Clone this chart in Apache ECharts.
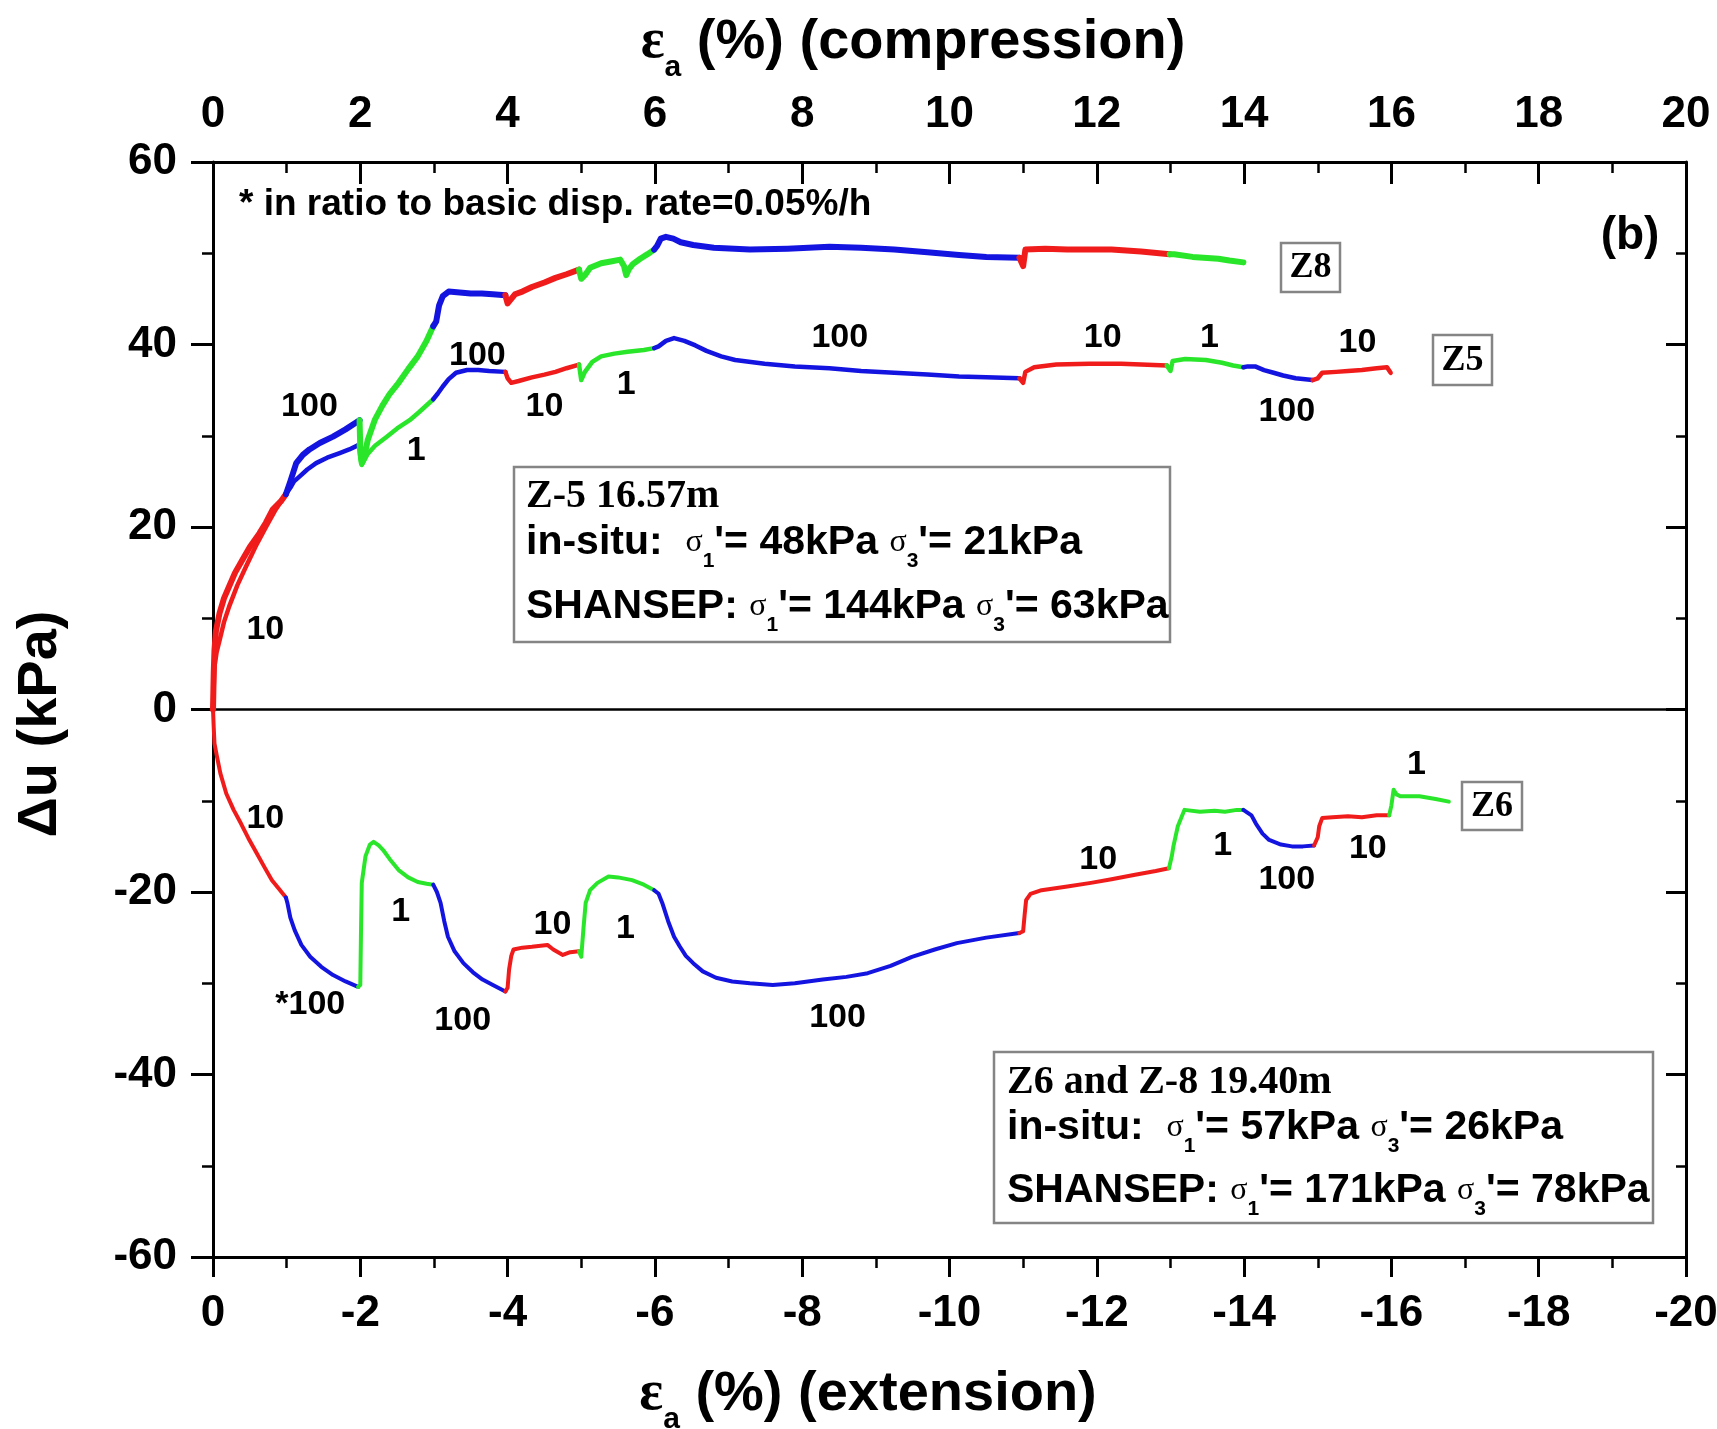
<!DOCTYPE html>
<html><head><meta charset="utf-8">
<script src="https://cdn.jsdelivr.net/npm/echarts@6/dist/echarts.min.js"></script>
<style>html,body{margin:0;padding:0;background:#fff}#c{width:1717px;height:1429px}</style>
</head><body><div id="c"></div>
<script>
// ---- stage schedule (strain % where each displacement-rate stage ends) ----
const stageEnds  = [1, 2, 3, 4, 5, 6, 11, 13, 14, 15, 16, 20];
const stageRates = [10, 100, 1, 100, 10, 1, 100, 10, 1, 100, 10, 1];
const rateColors = {100: '#1414e0', 10: '#f01c1c', 1: '#2ae62a'};

// ---- Z8 (compression), [εa %, Δu kPa] ----
const z8Points = [
[0,0],[0.005,2.0],[0.01,4.0],[0.02,6.5],[0.04,8.6],[0.09,10.6],[0.15,12.2],[0.22,13.5],[0.30,15.0],[0.40,16.4],[0.50,17.8],[0.63,19.3],[0.72,20.5],[0.81,21.9],[0.92,22.8],[0.99,23.6],
[1.05,25.0],[1.13,27.0],[1.22,27.9],[1.31,28.5],[1.45,29.2],[1.63,29.9],[1.8,30.7],[1.99,31.7],
[2.0,28.5],[2.02,27.0],[2.05,27.5],[2.1,29.5],[2.2,31.8],[2.3,33.3],[2.4,34.6],[2.52,35.8],[2.65,37.3],[2.78,38.7],[2.9,40.4],[2.99,42.0],
[3.03,42.5],[3.07,44.3],[3.12,45.3],[3.2,45.8],[3.35,45.7],[3.5,45.6],[3.65,45.6],[3.8,45.5],[3.97,45.4],
[4.0,44.5],[4.03,44.8],[4.1,45.5],[4.2,45.8],[4.33,46.3],[4.5,46.8],[4.65,47.3],[4.8,47.7],[4.97,48.2],
[5.0,47.2],[5.05,47.6],[5.12,48.4],[5.27,48.9],[5.4,49.1],[5.53,49.3],[5.58,48.6],[5.61,47.6],[5.65,48.3],[5.7,48.8],[5.8,49.4],[5.9,49.9],[5.99,50.4],
[6.03,50.8],[6.08,51.6],[6.15,51.8],[6.25,51.6],[6.35,51.2],[6.52,50.9],[6.8,50.6],[7.29,50.4],[7.8,50.5],[8.37,50.7],[8.8,50.6],[9.25,50.4],[9.7,50.1],[10.13,49.8],[10.5,49.6],[10.95,49.5],
[11.0,48.6],[11.03,50.4],[11.3,50.5],[11.6,50.4],[11.89,50.4],[12.2,50.4],[12.6,50.2],[12.99,49.9],
[13.05,49.9],[13.3,49.6],[13.65,49.4],[13.8,49.2],[13.99,49.0]
];

// ---- Z5 (compression) ----
const z5Points = [
[0,0],[0.01,2.5],[0.02,4.7],[0.05,6.3],[0.09,7.6],[0.15,9.6],[0.22,11.3],[0.33,13.6],[0.45,15.7],[0.58,17.9],[0.72,20.0],[0.85,21.9],[0.99,23.6],
[1.05,24.3],[1.1,25.0],[1.17,25.5],[1.28,26.3],[1.40,27.0],[1.55,27.6],[1.72,28.1],[1.85,28.5],[1.98,29.0],
[2.0,27.5],[2.02,26.8],[2.1,28.0],[2.2,28.9],[2.36,29.9],[2.5,30.8],[2.67,31.7],[2.8,32.6],[2.99,34.0],
[3.05,34.6],[3.12,35.4],[3.2,36.2],[3.3,36.9],[3.45,37.2],[3.6,37.2],[3.75,37.1],[3.97,37.0],
[4.0,36.3],[4.05,35.8],[4.15,36.0],[4.33,36.4],[4.5,36.7],[4.65,37.0],[4.8,37.4],[4.97,37.8],
[5.0,36.1],[5.05,37.0],[5.15,38.1],[5.27,38.7],[5.45,39.0],[5.63,39.2],[5.85,39.4],[5.99,39.6],
[6.05,39.8],[6.15,40.4],[6.26,40.7],[6.4,40.4],[6.55,39.9],[6.7,39.3],[6.9,38.7],[7.09,38.3],[7.49,37.9],[7.9,37.6],[8.37,37.4],[8.8,37.1],[9.25,36.9],[9.7,36.7],[10.13,36.5],[10.5,36.4],[10.95,36.3],
[11.0,35.8],[11.03,37.0],[11.15,37.5],[11.45,37.8],[11.9,37.9],[12.33,37.9],[12.6,37.8],[12.95,37.7],
[13.0,37.1],[13.03,38.2],[13.2,38.4],[13.48,38.3],[13.7,38.0],[13.85,37.7],[13.99,37.5],
[14.05,37.6],[14.15,37.6],[14.27,37.2],[14.4,36.9],[14.53,36.6],[14.7,36.3],[14.93,36.1],
[15.0,36.3],[15.06,36.9],[15.25,37.0],[15.41,37.1],[15.6,37.2],[15.8,37.4],[15.94,37.5],[15.99,36.9]
];

// ---- Z6 (extension), x = |εa| ----
const z6Points = [
[0,0],[0.01,-2.0],[0.02,-3.7],[0.05,-5.0],[0.1,-7.0],[0.18,-9.2],[0.28,-11.0],[0.38,-12.5],[0.48,-14.1],[0.59,-15.7],[0.7,-17.3],[0.8,-18.7],[0.9,-19.7],[0.96,-20.3],[0.99,-20.6],
[1.01,-21.2],[1.05,-22.8],[1.11,-24.2],[1.2,-25.8],[1.32,-27.1],[1.47,-28.2],[1.63,-29.1],[1.8,-29.8],[1.97,-30.4],
[2.0,-30.2],[2.01,-24.0],[2.02,-19.0],[2.07,-16.1],[2.13,-14.8],[2.18,-14.5],[2.25,-14.9],[2.31,-15.4],[2.4,-16.4],[2.52,-17.6],[2.65,-18.4],[2.78,-18.9],[2.9,-19.1],[2.99,-19.2],
[3.04,-20.0],[3.09,-21.2],[3.14,-23.2],[3.19,-24.9],[3.28,-26.5],[3.40,-27.8],[3.53,-28.8],[3.66,-29.6],[3.8,-30.2],[3.97,-30.9],
[4.0,-30.5],[4.02,-28.5],[4.05,-27.0],[4.08,-26.3],[4.2,-26.1],[4.33,-26.0],[4.54,-25.8],[4.62,-26.3],[4.75,-26.9],[4.85,-26.6],[4.97,-26.5],
[5.0,-27.1],[5.03,-24.0],[5.06,-21.2],[5.12,-19.8],[5.22,-19.0],[5.37,-18.3],[5.5,-18.4],[5.69,-18.7],[5.85,-19.2],[5.99,-19.8],
[6.05,-20.2],[6.10,-21.2],[6.18,-23.2],[6.26,-24.9],[6.34,-26.0],[6.42,-27.0],[6.52,-27.8],[6.65,-28.7],[6.83,-29.4],[7.05,-29.8],[7.29,-30.0],[7.6,-30.2],[7.9,-30.0],[8.28,-29.6],[8.6,-29.3],[8.89,-28.9],[9.2,-28.1],[9.49,-27.1],[9.8,-26.3],[10.10,-25.6],[10.5,-25.0],[10.95,-24.5],
[11.0,-24.3],[11.02,-22.5],[11.04,-20.9],[11.1,-20.2],[11.25,-19.8],[11.6,-19.4],[11.92,-19.0],[12.2,-18.6],[12.52,-18.1],[12.8,-17.7],[12.98,-17.4],
[13.02,-16.0],[13.04,-15.0],[13.1,-12.8],[13.19,-11.0],[13.4,-11.2],[13.6,-11.1],[13.74,-11.2],[13.9,-11.0],[13.99,-11.0],
[14.1,-11.6],[14.16,-12.5],[14.25,-13.6],[14.34,-14.3],[14.5,-14.8],[14.65,-15.0],[14.8,-15.0],[14.95,-14.9],
[15.0,-14.0],[15.02,-12.8],[15.06,-11.9],[15.2,-11.8],[15.41,-11.7],[15.6,-11.8],[15.8,-11.6],[15.97,-11.6],
[16.0,-10.5],[16.03,-8.8],[16.07,-9.3],[16.12,-9.5],[16.38,-9.5],[16.6,-9.8],[16.78,-10.1]
];

// ---- rate annotations [x, y, text] ----
const upperRateLabels = [
[0.71,8.7,'10'],[1.31,33.2,'100'],[2.76,28.4,'1'],[3.59,38.8,'100'],[4.50,33.2,'10'],[5.61,35.6,'1'],
[8.51,40.8,'100'],[12.08,40.8,'10'],[13.53,40.8,'1'],[15.54,40.2,'10'],[14.58,32.6,'100']
];
const lowerRateLabels = [
[0.71,-12.0,'10'],[1.32,-32.3,'*100'],[2.55,-22.2,'1'],[3.39,-34.1,'100'],[4.61,-23.6,'10'],[5.60,-24.0,'1'],
[8.48,-33.8,'100'],[12.02,-16.5,'10'],[13.71,-14.9,'1'],[14.58,-18.6,'100'],[15.68,-15.3,'10'],[16.34,-6.0,'1']
];

function stageOf(x) {
  for (let i = 0; i < stageEnds.length; i++) if (x < stageEnds[i]) return i;
  return stageEnds.length - 1;
}
function segments(points) {
  const segs = []; let cur = null;
  points.forEach(p => {
    const s = stageOf(p[0]);
    if (!cur || cur.stage !== s) {
      const prev = cur ? cur.data[cur.data.length - 1] : null;
      cur = {stage: s, data: prev ? [prev] : []};
      segs.push(cur);
    }
    cur.data.push(p);
  });
  return segs;
}
function curveSeries(points, width, z) {
  return segments(points).map(sg => ({
    type: 'line', data: sg.data, showSymbol: false, symbol: 'none', silent: true, z: z,
    lineStyle: {color: rateColors[stageRates[sg.stage]], width: width, join: 'round', cap: 'round'},
    itemStyle: {color: rateColors[stageRates[sg.stage]]}
  }));
}

const SANS = '"Liberation Sans", Arial, sans-serif';
const SERIF = '"Liberation Serif", "Times New Roman", serif';
const series = [].concat(
  curveSeries(z6Points, 4, 3),
  curveSeries(z5Points, 4.5, 4),
  curveSeries(z8Points, 6, 5)
);
series.push({
  type: 'line', data: [], silent: true,
  markLine: {silent: true, symbol: 'none', label: {show: false},
    lineStyle: {color: '#000', width: 2.5, type: 'solid'}, data: [{yAxis: 0}]}
});
const labelStyle = {show: true, position: 'inside', formatter: p => p.value[2], color: '#000', opacity: 1,
  fontFamily: SANS, fontWeight: 'bold', fontSize: 34};
[upperRateLabels, lowerRateLabels].forEach(arr => series.push({
  type: 'scatter', data: arr, symbolSize: 0.1, silent: true, z: 10,
  itemStyle: {color: 'rgba(255,255,255,0)', opacity: 1}, label: labelStyle,
  emphasis: {disabled: true}
}));

const axisLineStyle = {color: '#000', width: 3};
const tickLabel = {color: '#000', fontFamily: SANS, fontWeight: 'bold', fontSize: 44};

function subText(x, y, main, sub, rest, size, subSize, rot) {
  return {type: 'text', x: x, y: y, rotation: rot || 0, z: 100,
    style: {text: '{e|' + main + '}{s|' + sub + '}{t|' + rest + '}', align: 'center', verticalAlign: 'middle', fill: '#000',
      rich: {
        e: {fontFamily: SERIF, fontWeight: 'bold', fontSize: size, lineHeight: 80, fill: '#000'},
        s: {fontFamily: SANS, fontWeight: 'bold', fontSize: subSize, lineHeight: 6, verticalAlign: 'bottom', fill: '#000'},
        t: {fontFamily: SANS, fontWeight: 'bold', fontSize: size, lineHeight: 80, fill: '#000'}
      }}};
}
function sigmaLine(x, y, parts) {
  let txt = '';
  parts.forEach(p => { txt += (typeof p === 'string') ? '{b|' + p + '}' : '{g|σ}{s|' + p.sub + '}'; });
  return {type: 'text', x: x, y: y, z: 100,
    style: {text: txt, align: 'left', verticalAlign: 'middle', fill: '#000',
      rich: {
        b: {fontFamily: SANS, fontWeight: 'bold', fontSize: 41, lineHeight: 58, fill: '#000'},
        g: {fontFamily: SERIF, fontSize: 32, lineHeight: 58, fill: '#000'},
        s: {fontFamily: SANS, fontWeight: 'bold', fontSize: 21, lineHeight: 6, verticalAlign: 'bottom', fill: '#000'}
      }}};
}
function plain(x, y, text, font, align) {
  return {type: 'text', x: x, y: y, z: 100,
    style: {text: text, font: font, fill: '#000', align: align || 'center', verticalAlign: 'middle'}};
}
function box(x, y, w, h) {
  return {type: 'rect', z: 99, shape: {x: x, y: y, width: w, height: h},
    style: {fill: '#fff', stroke: '#858585', lineWidth: 2.5}};
}

const graphic = [
  subText(913, 43, 'ε', 'a', ' (%) (compression)', 56, 30),
  subText(868, 1395, 'ε', 'a', ' (%) (extension)', 56, 30),
  {type: 'text', x: 41, y: 724, rotation: Math.PI / 2, z: 100,
    style: {text: 'Δu (kPa)', font: 'bold 56px ' + SANS, fill: '#000', align: 'center', verticalAlign: 'middle'}},
  plain(239, 205, '* in ratio to basic disp. rate=0.05%/h', 'bold 37px ' + SANS, 'left'),
  plain(1630, 236, '(b)', 'bold 46px ' + SANS),
  box(514, 467, 656, 175),
  plain(526, 497, 'Z-5 16.57m', 'bold 40px ' + SERIF, 'left'),
  sigmaLine(526, 543, ['in-situ:  ', {sub: '1'}, "'= 48kPa ", {sub: '3'}, "'= 21kPa"]),
  sigmaLine(526, 607, ['SHANSEP: ', {sub: '1'}, "'= 144kPa ", {sub: '3'}, "'= 63kPa"]),
  box(994, 1052, 659, 171),
  plain(1007, 1083, 'Z6 and Z-8 19.40m', 'bold 40px ' + SERIF, 'left'),
  sigmaLine(1007, 1128, ['in-situ:  ', {sub: '1'}, "'= 57kPa ", {sub: '3'}, "'= 26kPa"]),
  sigmaLine(1007, 1191, ['SHANSEP: ', {sub: '1'}, "'= 171kPa ", {sub: '3'}, "'= 78kPa"]),
  box(1281, 243, 59, 49), plain(1310.5, 268, 'Z8', 'bold 36px ' + SERIF),
  box(1433, 335, 59, 50), plain(1462.5, 361, 'Z5', 'bold 36px ' + SERIF),
  box(1462, 782, 60, 48), plain(1492, 807, 'Z6', 'bold 36px ' + SERIF)
];

const chart = echarts.init(document.getElementById('c'), null, {renderer: 'canvas'});
chart.setOption({
  animation: false,
  backgroundColor: '#fff',
  grid: {left: 213, right: 31, top: 162, bottom: 172, containLabel: false, outerBoundsMode: 'none'},
  xAxis: [
    {type: 'value', position: 'bottom', min: 0, max: 20, interval: 2,
      axisLine: {show: true, onZero: false, lineStyle: axisLineStyle},
      axisTick: {show: true, inside: false, length: 20, lineStyle: {color: '#000', width: 3}},
      minorTick: {show: true, splitNumber: 2, length: 11, lineStyle: {color: '#000', width: 2.5}},
      axisLabel: Object.assign({margin: 35, formatter: v => v === 0 ? '0' : '-' + v}, tickLabel),
      splitLine: {show: false}},
    {type: 'value', position: 'top', min: 0, max: 20, interval: 2,
      axisLine: {show: true, onZero: false, lineStyle: axisLineStyle},
      axisTick: {show: true, inside: true, length: 22, lineStyle: {color: '#000', width: 3}},
      minorTick: {show: true, splitNumber: 2, length: 11, lineStyle: {color: '#000', width: 2.5}},
      axisLabel: Object.assign({margin: 25}, tickLabel),
      splitLine: {show: false}}
  ],
  yAxis: [
    {type: 'value', position: 'left', min: -60, max: 60, interval: 20,
      axisLine: {show: true, onZero: false, lineStyle: axisLineStyle},
      axisTick: {show: true, inside: false, length: 22, lineStyle: {color: '#000', width: 3}},
      minorTick: {show: true, splitNumber: 2, length: 11, lineStyle: {color: '#000', width: 2.5}},
      axisLabel: Object.assign({margin: 36}, tickLabel),
      splitLine: {show: false}},
    {type: 'value', position: 'right', min: -60, max: 60, interval: 20,
      axisLine: {show: true, onZero: false, lineStyle: axisLineStyle},
      axisTick: {show: true, inside: true, length: 20, lineStyle: {color: '#000', width: 3}},
      minorTick: {show: true, splitNumber: 2, length: 10, lineStyle: {color: '#000', width: 2.5}},
      axisLabel: {show: false},
      splitLine: {show: false}}
  ],
  series: series,
  graphic: graphic
});
</script>
</body></html>
